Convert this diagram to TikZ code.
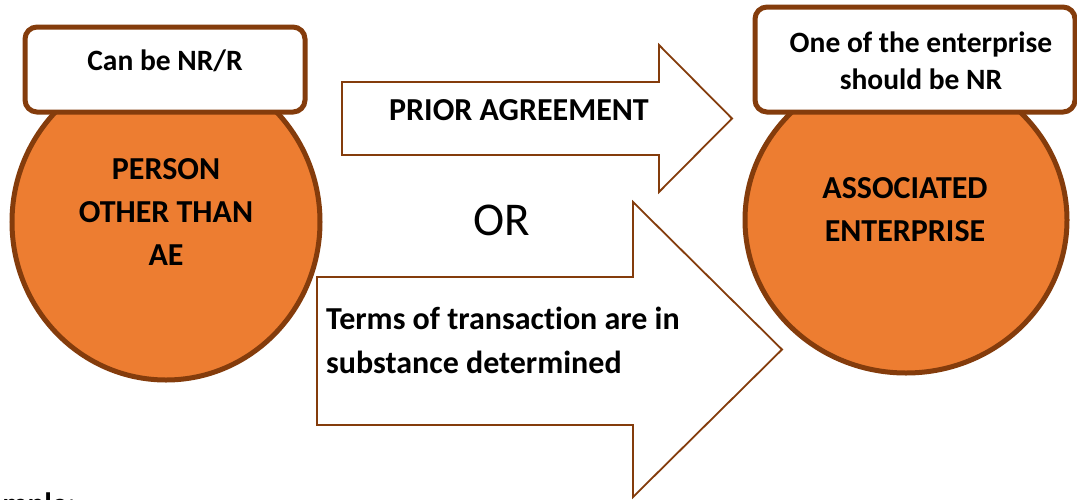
\documentclass[tikz,border=0pt]{standalone}
\usepackage{fontspec}
\setmainfont{Carlito}[Ligatures=NoCommon]
\definecolor{brd}{HTML}{843C0C}
\definecolor{org}{HTML}{ED7D31}
\begin{document}
\begin{tikzpicture}[x=1pt,y=-1pt,
  circ/.style={draw=brd,fill=org,line width=5pt},
  lbox/.style={draw=brd,fill=white,line width=5pt,rounded corners=12pt},
  arr/.style={draw=brd,fill=white,line width=1.8pt,line join=miter},
  btxt/.style={font=\bfseries\fontsize{32}{43}\selectfont,align=center,inner sep=0pt},
  boxtxt/.style={font=\bfseries\fontsize{29.5}{37}\selectfont,align=center,inner sep=0pt}]
\clip (0,0) rectangle (1077,499);
\fill[white] (0,0) rectangle (1077,499);
% circles
\filldraw[circ] (166,222) ellipse [x radius=154, y radius=158];
\filldraw[circ] (906,220) ellipse [x radius=161, y radius=153];
\node[btxt] (person) at (166,212) {PERSON\\OTHER THAN\\AE};
\node[btxt] (ae) at (905,210) {ASSOCIATED\\ENTERPRISE};
% label boxes
\node[lbox,minimum width=280pt,minimum height=85pt] (lb) at (165,69.5) {};
\node[lbox,minimum width=320pt,minimum height=105pt] (rb) at (915,59.5) {};
\node[boxtxt] (lbt) at (165,61) {Can be NR/R};
\node[boxtxt] (rbt) at (921,61) {One of the enterprise\\should be NR};
% arrows
\draw[arr] (342,82) -- (659,82) -- (659,45) -- (732,118.5) -- (659,192) -- (659,155) -- (342,155) -- cycle;
\node[btxt] (prior) at (519,110) {PRIOR AGREEMENT};
\draw[arr] (317,277) -- (633,277) -- (633,202) -- (782,349.5) -- (633,497) -- (633,425) -- (317,425) -- cycle;
\node[btxt,font=\bfseries\fontsize{32}{44}\selectfont,align=left,anchor=west] (terms) at (326,340) {Terms of transaction are in\\substance determined};
\node[font=\fontsize{47}{50}\selectfont,inner sep=0pt] (or) at (502,220) {OR};
\node[font=\bfseries\fontsize{31}{37}\selectfont,inner sep=0pt,anchor=base west] (ex) at (-42,514) {Example:};
\end{tikzpicture}
\end{document}
